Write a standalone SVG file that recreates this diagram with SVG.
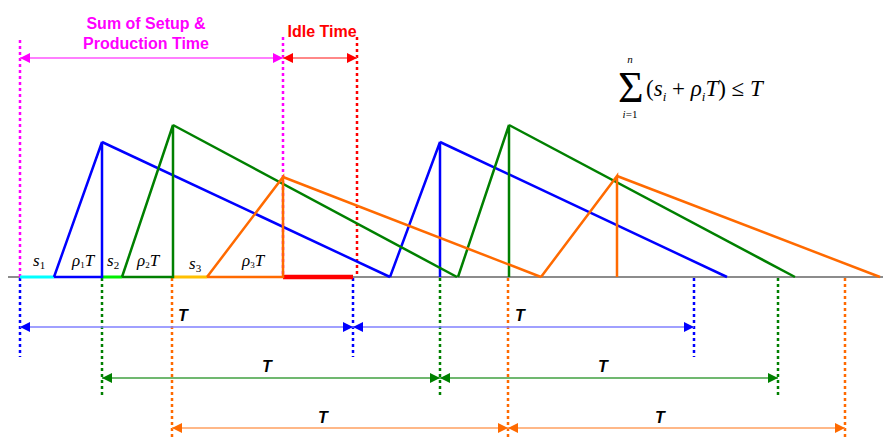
<svg xmlns="http://www.w3.org/2000/svg" width="883" height="438" viewBox="0 0 883 438">
<style>
.lbl{font-family:"Liberation Sans",Arial,sans-serif;font-weight:bold;font-size:16px}
.T{font-family:"Liberation Sans",Arial,sans-serif;font-weight:bold;font-style:italic;font-size:16px;fill:#000;text-anchor:middle}
.m{font-family:"Liberation Serif","Times New Roman",serif;font-style:italic;font-size:17px;fill:#000}
.f{font-family:"Liberation Serif","Times New Roman",serif;fill:#000}
.dash{stroke-width:2.5;stroke-dasharray:3,3;fill:none}
.saw{stroke-width:2.5;fill:none;stroke-linejoin:miter}
</style>
<defs>
<marker id="aM" viewBox="0 0 10 10" refX="10" refY="5" markerWidth="10" markerHeight="10" markerUnits="userSpaceOnUse" orient="auto-start-reverse"><path d="M0,0L10,5L0,10z" fill="#ff00ff"/></marker>
<marker id="aR" viewBox="0 0 10 10" refX="10" refY="5" markerWidth="10" markerHeight="10" markerUnits="userSpaceOnUse" orient="auto-start-reverse"><path d="M0,0L10,5L0,10z" fill="#ff0000"/></marker>
<marker id="aB" viewBox="0 0 10 10" refX="10" refY="5" markerWidth="10" markerHeight="10" markerUnits="userSpaceOnUse" orient="auto-start-reverse"><path d="M0,0L10,5L0,10z" fill="#0000ff"/></marker>
<marker id="aG" viewBox="0 0 10 10" refX="10" refY="5" markerWidth="10" markerHeight="10" markerUnits="userSpaceOnUse" orient="auto-start-reverse"><path d="M0,0L10,5L0,10z" fill="#008000"/></marker>
<marker id="aO" viewBox="0 0 10 10" refX="10" refY="5" markerWidth="10" markerHeight="10" markerUnits="userSpaceOnUse" orient="auto-start-reverse"><path d="M0,0L10,5L0,10z" fill="#ff6a00"/></marker>
</defs>
<rect width="883" height="438" fill="#fff"/>

<!-- axis -->
<line x1="8" y1="277" x2="883" y2="277" stroke="#666" stroke-width="1.5"/>

<g id="guides">
<line class="dash" x1="20" y1="40" x2="20" y2="277" stroke="#ff00ff"/>
<line class="dash" x1="283" y1="37" x2="283" y2="277" stroke="#ff00ff"/>
<line class="dash" x1="357" y1="37" x2="357" y2="277" stroke="#ff0000"/>
<line class="dash" x1="20" y1="278" x2="20" y2="357" stroke="#0000ff"/>
<line class="dash" x1="353" y1="278" x2="353" y2="357" stroke="#0000ff"/>
<line class="dash" x1="694" y1="278" x2="694" y2="357" stroke="#0000ff"/>
<line class="dash" x1="102" y1="278" x2="102" y2="397" stroke="#008000"/>
<line class="dash" x1="440" y1="278" x2="440" y2="397" stroke="#008000"/>
<line class="dash" x1="778" y1="278" x2="778" y2="397" stroke="#008000"/>
<line class="dash" x1="172" y1="278" x2="172" y2="438" stroke="#ff6a00"/>
<line class="dash" x1="508" y1="278" x2="508" y2="438" stroke="#ff6a00"/>
<line class="dash" x1="845" y1="278" x2="845" y2="438" stroke="#ff6a00"/>
</g>

<g id="base-segments">
<line x1="20" y1="277" x2="54" y2="277" stroke="#00ffff" stroke-width="3"/>
<line x1="102" y1="277" x2="122" y2="277" stroke="#00ee00" stroke-width="3"/>
<line x1="173" y1="277" x2="207" y2="277" stroke="#ffc000" stroke-width="3"/>
<line x1="283" y1="277" x2="353" y2="277" stroke="#ff0000" stroke-width="4.5"/>
</g>

<g id="sawtooth-blue">
<polyline class="saw" stroke="#0000ff" points="54,277 102,277 102,142 54,277"/>
<line class="saw" stroke="#0000ff" x1="102" y1="142" x2="390" y2="277"/>
<polyline class="saw" stroke="#0000ff" points="390,277 440,142 440,277"/>
<line class="saw" stroke="#0000ff" x1="440" y1="142" x2="727" y2="277"/>
</g>
<g id="sawtooth-green">
<polyline class="saw" stroke="#008000" points="122,277 173,277 173,125 122,277"/>
<line class="saw" stroke="#008000" x1="173" y1="125" x2="457" y2="277"/>
<polyline class="saw" stroke="#008000" points="458,277 509,125 509,277"/>
<line class="saw" stroke="#008000" x1="509" y1="125" x2="795" y2="277"/>
</g>
<g id="sawtooth-orange">
<polyline class="saw" stroke="#ff6a00" points="207,277 283,277 283,177 207,277"/>
<line class="saw" stroke="#ff6a00" x1="283" y1="177" x2="541" y2="277"/>
<polyline class="saw" stroke="#ff6a00" points="541,277 617,176 617,277"/>
<line class="saw" stroke="#ff6a00" x1="617" y1="176" x2="880" y2="277"/>
</g>

<g id="connectors">
<line x1="20" y1="58" x2="283" y2="58" stroke="#ff55ff" stroke-width="1.5" marker-start="url(#aM)" marker-end="url(#aM)"/>
<line x1="283" y1="58" x2="357" y2="58" stroke="#ff6060" stroke-width="1.5" marker-start="url(#aR)" marker-end="url(#aR)"/>
<line x1="20" y1="327" x2="353" y2="327" stroke="#8080ff" stroke-width="1.5" marker-start="url(#aB)" marker-end="url(#aB)"/>
<line x1="353" y1="327" x2="694" y2="327" stroke="#8080ff" stroke-width="1.5" marker-start="url(#aB)" marker-end="url(#aB)"/>
<line x1="102" y1="378" x2="440" y2="378" stroke="#40a040" stroke-width="1.5" marker-start="url(#aG)" marker-end="url(#aG)"/>
<line x1="440" y1="378" x2="778" y2="378" stroke="#40a040" stroke-width="1.5" marker-start="url(#aG)" marker-end="url(#aG)"/>
<line x1="172" y1="428" x2="508" y2="428" stroke="#ffa060" stroke-width="1.5" marker-start="url(#aO)" marker-end="url(#aO)"/>
<line x1="508" y1="428" x2="845" y2="428" stroke="#ffa060" stroke-width="1.5" marker-start="url(#aO)" marker-end="url(#aO)"/>
</g>

<g id="labels">
<text class="lbl" x="146" y="29" fill="#ff00ff" text-anchor="middle">Sum of Setup &amp;</text>
<text class="lbl" x="146" y="49" fill="#ff00ff" text-anchor="middle">Production Time</text>
<text class="lbl" x="322" y="37" fill="#ff0000" text-anchor="middle">Idle Time</text>
<text class="T" x="183" y="321">T</text>
<text class="T" x="520" y="321">T</text>
<text class="T" x="267" y="372">T</text>
<text class="T" x="603" y="372">T</text>
<text class="T" x="323" y="423">T</text>
<text class="T" x="660" y="423">T</text>
</g>

<g id="segment-labels">
<text class="m" x="33" y="266">s<tspan font-size="11" font-style="normal" dy="3">1</tspan></text>
<text class="m" x="72" y="266" font-size="14">ρ<tspan font-size="9" font-style="normal" dy="2">1</tspan><tspan dy="-2">T</tspan></text>
<text class="m" x="107" y="266">s<tspan font-size="11" font-style="normal" dy="3">2</tspan></text>
<text class="m" x="137" y="266" font-size="14">ρ<tspan font-size="9" font-style="normal" dy="2">2</tspan><tspan dy="-2">T</tspan></text>
<text class="m" x="189" y="269">s<tspan font-size="11" font-style="normal" dy="3">3</tspan></text>
<text class="m" x="242" y="266" font-size="14">ρ<tspan font-size="9" font-style="normal" dy="2">3</tspan><tspan dy="-2">T</tspan></text>
</g>

<g id="formula">
<text class="f" x="618" y="102" font-size="44">Σ</text>
<text class="f" x="630" y="63" font-size="11" font-style="italic" text-anchor="middle">n</text>
<text class="f" x="630" y="118" font-size="11" text-anchor="middle"><tspan font-style="italic">i</tspan>=1</text>
<text class="f" x="646" y="96" font-size="23">(<tspan font-style="italic">s</tspan><tspan font-size="13" font-style="italic" dy="5">i</tspan><tspan dy="-5"> + </tspan><tspan font-style="italic">ρ</tspan><tspan font-size="13" font-style="italic" dy="5">i</tspan><tspan font-style="italic" dy="-5">T</tspan>) ≤ <tspan font-style="italic">T</tspan></text>
</g>
</svg>
